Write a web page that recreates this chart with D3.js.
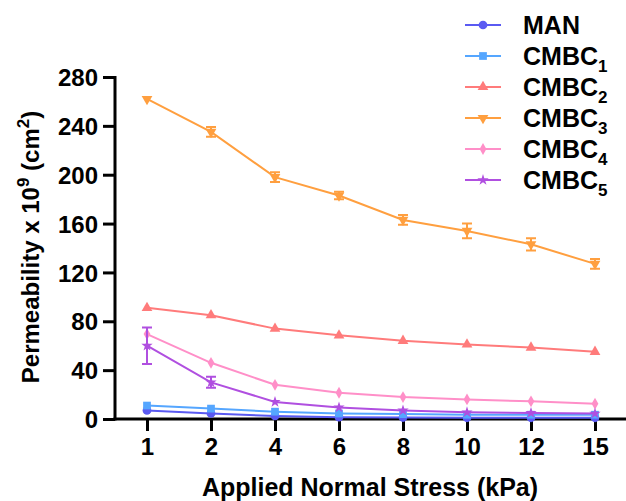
<!DOCTYPE html>
<html>
<head>
<meta charset="utf-8">
<script src="https://cdn.jsdelivr.net/npm/d3@7"></script>
<style>
  body { margin: 0; background: #fff; }
  text { font-family: "Liberation Sans", Arial, sans-serif; font-weight: bold; fill: #000; }
</style>
</head>
<body>
<div id="chart"></div>
<script>
// x categories (kPa)
var stress = ["1", "2", "4", "6", "8", "10", "12", "15"];

// series values (permeability x 10^9, cm^2) and error bars
var man    = [7, 4.5, 2.5, 1.5, 1.2, 1, 1, 1];
var cmbc1  = [11, 8.5, 6, 4.5, 4, 3.5, 3.5, 3.5];
var cmbc2  = [91, 85, 74, 68.5, 64, 61, 58.5, 55];
var cmbc3  = [262, 235, 198, 183, 163, 154, 143, 127];
var cmbc4  = [69.5, 46, 28, 21.5, 18, 16, 14.5, 12.5];
var cmbc5  = [60, 30, 14, 9.5, 7, 5.5, 5, 4.5];
var err3   = [1, 4, 4, 3, 4, 6, 5, 4];
var err5   = [15, 4.5, 1, 0.5, 0.5, 0.5, 0.5, 0.5];

var yTicks = [0, 40, 80, 120, 160, 200, 240, 280];

var series = [
  { name: "MAN",  sub: "",  values: man,   err: null, color: "#5a5af2", symbol: d3.symbolCircle,   size: 60 },
  { name: "CMBC", sub: "1", values: cmbc1, err: null, color: "#55a6ff", symbol: d3.symbolSquare,   size: 60 },
  { name: "CMBC", sub: "2", values: cmbc2, err: null, color: "#ff7b7b", symbol: d3.symbolTriangle, size: 50 },
  { name: "CMBC", sub: "3", values: cmbc3, err: err3, color: "#ff9f3f", symbol: d3.symbolTriangle, size: 50, flip: true },
  { name: "CMBC", sub: "4", values: cmbc4, err: null, color: "#ff8fc8", symbol: d3.symbolDiamond,  size: 40 },
  { name: "CMBC", sub: "5", values: cmbc5, err: err5, color: "#b04fe0", symbol: d3.symbolStar,     size: 40 }
];

var W = 626, H = 501;
var svg = d3.select("#chart").append("svg").attr("width", W).attr("height", H);

var x = d3.scalePoint().domain(stress).range([147, 595]);
var y = d3.scaleLinear().domain([0, 280]).range([419, 77]);

// y axis
var yAxis = svg.append("g").attr("transform", "translate(115,0)")
  .call(d3.axisLeft(y).tickValues(yTicks).tickSize(12).tickPadding(5));
yAxis.select(".domain").attr("stroke-width", 3).attr("d", "M-12,77.5H0V420.5");
yAxis.selectAll(".tick line").attr("stroke-width", 3);
yAxis.selectAll(".tick text").style("font-size", "24px").attr("dy", "0.36em");

// x axis
var xAxis = svg.append("g").attr("transform", "translate(0,419)")
  .call(d3.axisBottom(x).tickSize(12).tickPadding(7));
xAxis.select(".domain").attr("stroke-width", 3).attr("d", "M113.5,0H626");
xAxis.selectAll(".tick line").attr("stroke-width", 3);
xAxis.selectAll(".tick text").style("font-size", "24px");

// axis titles
svg.append("text").attr("x", 370).attr("y", 496).attr("text-anchor", "middle")
  .style("font-size", "25px").text("Applied Normal Stress (kPa)");

var yt = svg.append("text").attr("transform", "translate(39,247) rotate(-90)")
  .attr("text-anchor", "middle").style("font-size", "24px");
yt.append("tspan").text("Permeability x 10");
yt.append("tspan").attr("dy", -10).style("font-size", "17px").text("9");
yt.append("tspan").attr("dy", 10).text(" (cm");
yt.append("tspan").attr("dy", -10).style("font-size", "17px").text("2");
yt.append("tspan").attr("dy", 10).text(")");

var line = d3.line().x(function(d, i) { return x(stress[i]); }).y(function(d) { return y(d); });

series.forEach(function(s) {
  var g = svg.append("g");
  if (s.err) {
    s.values.forEach(function(v, i) {
      var e = s.err[i], cx = x(stress[i]);
      if (e < 1.5) return;
      g.append("path")
        .attr("d", "M" + (cx - 5) + "," + y(v + e) + "H" + (cx + 5) +
                   "M" + cx + "," + y(v + e) + "V" + y(v - e) +
                   "M" + (cx - 5) + "," + y(v - e) + "H" + (cx + 5))
        .attr("stroke", s.color).attr("stroke-width", 2).attr("fill", "none");
    });
  }
  g.append("path").datum(s.values).attr("d", line)
    .attr("fill", "none").attr("stroke", s.color).attr("stroke-width", 2);
  g.selectAll(".m").data(s.values).enter().append("path")
    .attr("d", d3.symbol().type(s.symbol).size(s.size))
    .attr("transform", function(d, i) {
      return "translate(" + x(stress[i]) + "," + y(d) + ")" + (s.flip ? " rotate(180)" : "");
    })
    .attr("fill", s.color);
});

// legend
var legend = svg.append("g");
series.forEach(function(s, i) {
  var ly = 25 + i * 31;
  legend.append("line").attr("x1", 465).attr("x2", 501).attr("y1", ly).attr("y2", ly)
    .attr("stroke", s.color).attr("stroke-width", 2);
  legend.append("path").attr("d", d3.symbol().type(s.symbol).size(s.size))
    .attr("transform", "translate(483," + ly + ")" + (s.flip ? " rotate(180)" : ""))
    .attr("fill", s.color);
  var t = legend.append("text").attr("x", 523).attr("y", ly + 8.5).style("font-size", "25px");
  t.append("tspan").text(s.name);
  if (s.sub) t.append("tspan").attr("dy", 7).style("font-size", "17px").text(s.sub);
});
</script>
</body>
</html>
